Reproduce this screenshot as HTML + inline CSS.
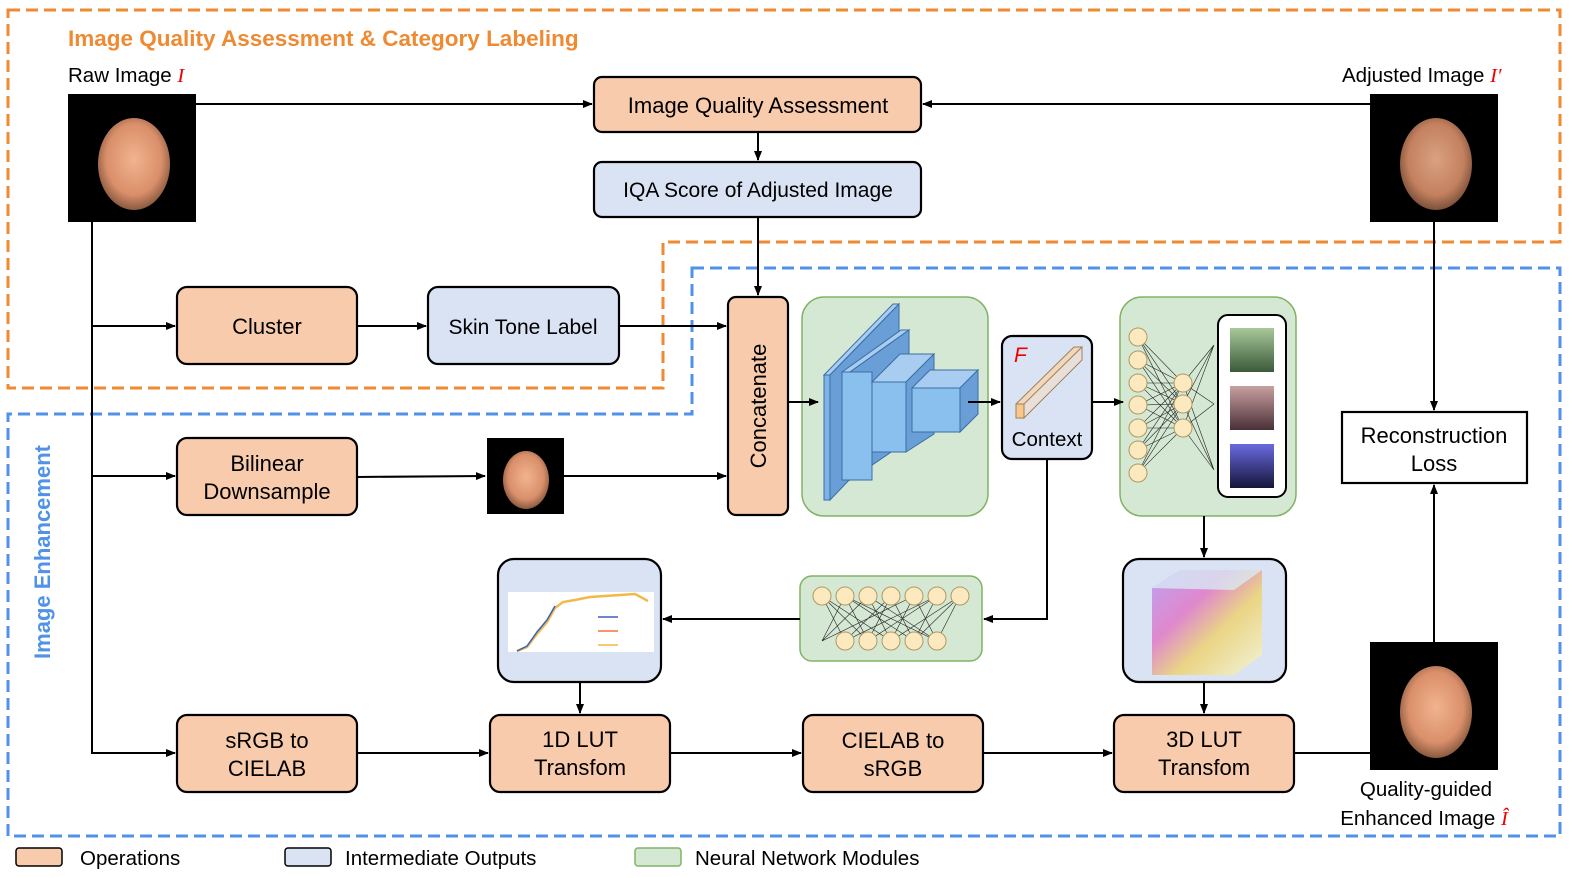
<!DOCTYPE html>
<html><head><meta charset="utf-8"><style>html,body{margin:0;padding:0;background:#fff;overflow:hidden}svg{display:block}text{font-family:"Liberation Sans",Arial,sans-serif}</style></head><body>
<svg width="1577" height="878" viewBox="0 0 1577 878" xmlns="http://www.w3.org/2000/svg">
<defs>
<marker id="a" markerWidth="10" markerHeight="8" refX="9" refY="4" orient="auto" markerUnits="userSpaceOnUse"><path d="M0,0 L10,4 L0,8 z" fill="#000"/></marker>
<radialGradient id="face" cx="50%" cy="45%" r="55%"><stop offset="0" stop-color="#f2b38f"/><stop offset="0.7" stop-color="#d98f6a"/><stop offset="1" stop-color="#8a5a40"/></radialGradient>
<linearGradient id="cg" x1="0" y1="0" x2="1" y2="1"><stop offset="0" stop-color="#b58cf0"/><stop offset="0.35" stop-color="#e06ac0"/><stop offset="0.6" stop-color="#f0d060"/><stop offset="1" stop-color="#f8f8d0"/></linearGradient>
<linearGradient id="g1" x1="0" y1="0" x2="0" y2="1"><stop offset="0" stop-color="#a8c89a"/><stop offset="1" stop-color="#3a5a3a"/></linearGradient>
<linearGradient id="g2" x1="0" y1="0" x2="0" y2="1"><stop offset="0" stop-color="#c8a0a0"/><stop offset="1" stop-color="#4a3038"/></linearGradient>
<linearGradient id="g3" x1="0" y1="0" x2="0" y2="1"><stop offset="0" stop-color="#6a6ae0"/><stop offset="1" stop-color="#15153a"/></linearGradient>
</defs>
<g fill="none" stroke-width="3" stroke-dasharray="12,6">
<path d="M8,10 H1560 V242 H663 V388 H8 Z" stroke="#ee8a32"/>
<path d="M692,268 H1560 V836 H8 V414 H692 Z" stroke="#4f92e8"/>
</g>
<text x="68" y="46" font-size="22.5" font-weight="bold" fill="#ee8a32">Image Quality Assessment &amp; Category Labeling</text>
<text transform="translate(50,552) rotate(-90)" font-size="22" font-weight="bold" fill="#4f92e8" text-anchor="middle">Image Enhancement</text>
<text x="68" y="82" font-size="20.5">Raw Image <tspan fill="#e00" font-family="Liberation Serif" font-style="italic">I</tspan></text>
<text x="1342" y="82" font-size="20.5">Adjusted Image <tspan fill="#e00" font-family="Liberation Serif" font-style="italic">I′</tspan></text>
<rect x="68" y="94" width="128" height="128" fill="#000"/><ellipse cx="134" cy="164" rx="36" ry="46" fill="url(#face)"/>
<rect x="1370" y="94" width="128" height="128" fill="#000"/><ellipse cx="1436" cy="164" rx="36" ry="46" fill="url(#face)" opacity="0.9"/>
<rect x="1370" y="642" width="128" height="128" fill="#000"/><ellipse cx="1436" cy="712" rx="36" ry="46" fill="url(#face)"/>
<rect x="487" y="438" width="77" height="76" fill="#000"/><ellipse cx="526" cy="480" rx="23" ry="29" fill="url(#face)"/>
<g stroke="#000" stroke-width="2.2">
<rect x="594" y="77" width="327" height="55" rx="8" fill="#f8cbad"/>
<rect x="594" y="162" width="327" height="55" rx="8" fill="#dae3f3"/>
<rect x="177" y="287" width="180" height="77" rx="10" fill="#f8cbad"/>
<rect x="428" y="287" width="191" height="77" rx="10" fill="#dae3f3"/>
<rect x="728" y="297" width="60" height="218" rx="8" fill="#f8cbad"/>
<rect x="177" y="438" width="180" height="77" rx="10" fill="#f8cbad"/>
<rect x="1002" y="336" width="90" height="123" rx="10" fill="#dae3f3"/>
<rect x="1342" y="412" width="185" height="71" fill="#fff"/>
<rect x="498" y="559" width="163" height="123" rx="16" fill="#dae3f3"/>
<rect x="1123" y="559" width="163" height="123" rx="16" fill="#dae3f3"/>
<rect x="177" y="715" width="180" height="77" rx="10" fill="#f8cbad"/>
<rect x="490" y="715" width="180" height="77" rx="10" fill="#f8cbad"/>
<rect x="803" y="715" width="180" height="77" rx="10" fill="#f8cbad"/>
<rect x="1114" y="715" width="180" height="77" rx="10" fill="#f8cbad"/>
</g>
<g stroke="#82b366" stroke-width="1.5" fill="#d5e8d4">
<rect x="802" y="297" width="186" height="219" rx="22"/>
<rect x="1120" y="297" width="176" height="219" rx="22"/>
<rect x="800" y="576" width="182" height="85" rx="12"/>
</g>
<rect x="1218" y="315" width="68" height="182" rx="10" fill="#fff" stroke="#000" stroke-width="2"/>
<rect x="1230" y="328" width="44" height="44" fill="url(#g1)"/>
<rect x="1230" y="386" width="44" height="44" fill="url(#g2)"/>
<rect x="1230" y="444" width="44" height="44" fill="url(#g3)"/>
<g stroke="#3a6ea5" stroke-width="1" fill="#7fb3e6">
<path d="M824,375 L893,304 L899,304 L830,375Z" fill="#a9cdf0"/><path d="M830,375 L899,304 L899,428 L830,500Z" fill="#6a9ed6"/><rect x="824" y="375" width="6" height="125"/>
<path d="M842,372 L901,330 L909,330 L850,372Z" fill="#a9cdf0"/><path d="M850,372 L909,330 L909,440 L850,480Z" fill="#6a9ed6"/><rect x="842" y="372" width="30" height="108" fill="#89c0ee"/>
<path d="M872,382 L900,354 L934,354 L906,382Z" fill="#a9cdf0"/><path d="M906,382 L934,354 L934,434 L906,452Z" fill="#6a9ed6"/><rect x="872" y="382" width="34" height="70" fill="#89c0ee"/>
<path d="M912,388 L930,370 L978,370 L960,388Z" fill="#a9cdf0"/><path d="M960,388 L978,370 L978,414 L960,432Z" fill="#6a9ed6"/><rect x="912" y="388" width="48" height="44" fill="#89c0ee"/>
</g>
<path d="M1016,404 L1074,347 L1082,347 L1082,353 L1024,410 Z" fill="#f0d8b8" stroke="#a08060"/><rect x="1016" y="404" width="8" height="14" fill="#f8c888" stroke="#a08060"/><path d="M1024,404 L1082,347 L1082,360 L1024,418Z" fill="#e8e0d8" stroke="#a08060"/>
<text x="1014" y="362" font-size="21" fill="#e00" font-family="Liberation Serif" font-style="italic">F</text>
<text x="1047" y="446" font-size="20.5" text-anchor="middle">Context</text>
<g stroke="#222" stroke-width="0.6">
<path d="M1138,337 L1183,383 M1138,337 L1183,404 M1138,337 L1183,428 M1138,360 L1183,383 M1138,360 L1183,404 M1138,360 L1183,428 M1138,383 L1183,383 M1138,383 L1183,404 M1138,383 L1183,428 M1138,405 L1183,383 M1138,405 L1183,404 M1138,405 L1183,428 M1138,428 L1183,383 M1138,428 L1183,404 M1138,428 L1183,428 M1138,450 L1183,383 M1138,450 L1183,404 M1138,450 L1183,428 M1138,473 L1183,383 M1138,473 L1183,404 M1138,473 L1183,428 M1183,383 L1214,345 M1183,383 L1214,404 M1183,383 L1214,470 M1183,404 L1214,345 M1183,404 L1214,470 M1183,428 L1214,345 M1183,428 L1214,404 M1183,428 L1214,470"/>
<path d="M822,596 L845,641 M822,596 L868,641 M822,596 L891,641 M845,596 L822,641 M845,596 L868,641 M845,596 L914,641 M868,596 L822,641 M868,596 L891,641 M868,596 L937,641 M891,596 L845,641 M891,596 L914,641 M891,596 L868,641 M914,596 L822,641 M914,596 L891,641 M914,596 L937,641 M937,596 L845,641 M937,596 L868,641 M937,596 L914,641 M960,596 L891,641 M960,596 L937,641 M960,596 L914,641 M845,596 L937,641"/>
</g>
<g fill="#fde9bf" stroke="#b09860" stroke-width="1">
<circle cx="1138" cy="337" r="9"/><circle cx="1138" cy="360" r="9"/><circle cx="1138" cy="383" r="9"/><circle cx="1138" cy="405" r="9"/><circle cx="1138" cy="428" r="9"/><circle cx="1138" cy="450" r="9"/><circle cx="1138" cy="473" r="9"/>
<circle cx="1183" cy="383" r="9"/><circle cx="1183" cy="404" r="9"/><circle cx="1183" cy="428" r="9"/>
<circle cx="822" cy="596" r="9"/><circle cx="845" cy="596" r="9"/><circle cx="868" cy="596" r="9"/><circle cx="891" cy="596" r="9"/><circle cx="914" cy="596" r="9"/><circle cx="937" cy="596" r="9"/><circle cx="960" cy="596" r="9"/>
<circle cx="845" cy="641" r="9"/><circle cx="868" cy="641" r="9"/><circle cx="891" cy="641" r="9"/><circle cx="914" cy="641" r="9"/><circle cx="937" cy="641" r="9"/>
</g>
<rect x="508" y="592" width="146" height="60" fill="#fff"/>
<polyline points="517,651 527,647 537,634 547,622 555,608 563,602 575,600 590,597 605,596 620,595 635,594 648,601" fill="none" stroke="#f2b94a" stroke-width="2.5"/>
<polyline points="517,651 527,646 537,632 547,620 555,606" fill="none" stroke="#3a62b8" stroke-width="1.5"/>
<line x1="598" y1="617" x2="618" y2="617" stroke="#3a62b8" stroke-width="1.5"/><line x1="598" y1="631" x2="618" y2="631" stroke="#f07040" stroke-width="1.5"/><line x1="598" y1="645" x2="618" y2="645" stroke="#f2b94a" stroke-width="1.5"/>
<path d="M1152,588 L1180,570 L1262,570 L1262,655 L1234,675 L1152,675Z" fill="url(#cg)" opacity="0.75"/>
<path d="M1180,570 L1262,570 L1234,590 L1152,588Z" fill="#d8f4f8" opacity="0.7"/>
<g stroke="#000" stroke-width="2" fill="none">
<path d="M196,104 H592" marker-end="url(#a)"/>
<path d="M1370,104 H923" marker-end="url(#a)"/>
<path d="M758,132 V160" marker-end="url(#a)"/>
<path d="M758,217 V295" marker-end="url(#a)"/>
<path d="M92,222 V753 H175" marker-end="url(#a)"/>
<path d="M92,326 H175" marker-end="url(#a)"/>
<path d="M92,476 H175" marker-end="url(#a)"/>
<path d="M357,326 H426" marker-end="url(#a)"/>
<path d="M619,326 H726" marker-end="url(#a)"/>
<path d="M357,477 L485,476" marker-end="url(#a)"/>
<path d="M564,476 H726" marker-end="url(#a)"/>
<path d="M788,402 H818" marker-end="url(#a)"/>
<path d="M968,402 H1000" marker-end="url(#a)"/>
<path d="M1092,402 H1123" marker-end="url(#a)"/>
<path d="M1047,459 V619 H984" marker-end="url(#a)"/>
<path d="M800,619 H663" marker-end="url(#a)"/>
<path d="M580,682 V713" marker-end="url(#a)"/>
<path d="M1204,516 V557" marker-end="url(#a)"/>
<path d="M1204,682 V713" marker-end="url(#a)"/>
<path d="M357,753 H488" marker-end="url(#a)"/>
<path d="M670,753 H801" marker-end="url(#a)"/>
<path d="M983,753 H1112" marker-end="url(#a)"/>
<path d="M1294,753 H1370"/>
<path d="M1434,642 V485" marker-end="url(#a)"/>
<path d="M1434,222 V410" marker-end="url(#a)"/>
</g>
<g font-size="22" text-anchor="middle">
<text x="758" y="113">Image Quality Assessment</text>
<text x="758" y="197" font-size="21">IQA Score of Adjusted Image</text>
<text x="267" y="334">Cluster</text>
<text x="523" y="334" font-size="21">Skin Tone Label</text>
<text transform="translate(766,406) rotate(-90)">Concatenate</text>
<text x="267" y="471">Bilinear</text><text x="267" y="499">Downsample</text>
<text x="1434" y="443">Reconstruction</text><text x="1434" y="471">Loss</text>
<text x="267" y="748">sRGB to</text><text x="267" y="776">CIELAB</text>
<text x="580" y="747">1D LUT</text><text x="580" y="775">Transfom</text>
<text x="893" y="748">CIELAB to</text><text x="893" y="776">sRGB</text>
<text x="1204" y="747">3D LUT</text><text x="1204" y="775">Transfom</text>
<text x="1426" y="796" font-size="20.5">Quality-guided</text>
<text x="1424" y="825" font-size="20.5">Enhanced Image <tspan fill="#e00" font-family="Liberation Serif" font-style="italic">Î</tspan></text>
</g>
<g stroke="#000" stroke-width="1.5">
<rect x="16" y="848" width="46" height="18" rx="3" fill="#f8cbad"/>
<rect x="285" y="848" width="46" height="18" rx="3" fill="#dae3f3"/>
<rect x="635" y="848" width="46" height="18" rx="3" fill="#d5e8d4" stroke="#82b366"/>
</g>
<g font-size="20.5"><text x="80" y="865">Operations</text><text x="345" y="865">Intermediate Outputs</text><text x="695" y="865">Neural Network Modules</text></g>
</svg>
</body></html>
